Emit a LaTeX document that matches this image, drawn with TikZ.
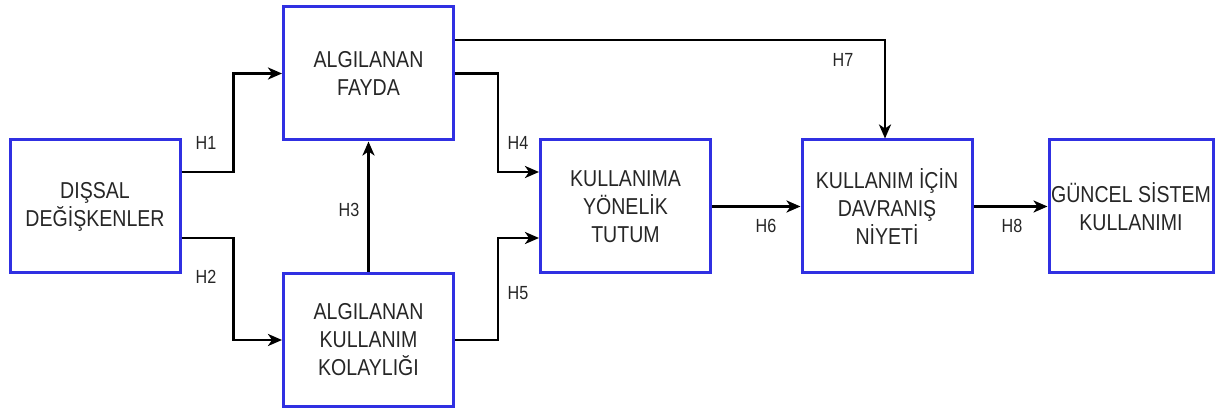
\documentclass[tikz,border=0pt]{standalone}
\usepackage{fontspec}
\setmainfont{Liberation Sans}[FakeStretch=0.85]
\usetikzlibrary{arrows.meta}
\definecolor{boxblue}{RGB}{48,48,226}
\definecolor{txtgray}{RGB}{38,38,38}

\begin{document}
\begin{tikzpicture}[x=1pt, y=-1pt,
    box/.style={draw=boxblue, line width=3pt, rectangle, fill=white, inner sep=0pt,
        minimum width=170pt, minimum height=133pt, align=center, text=txtgray,
        font=\fontsize{23}{28}\selectfont},
    lbl/.style={inner sep=0pt, text=txtgray, font=\fontsize{19}{21}\selectfont},
    arr/.style={black, line width=2.7pt, -{Stealth[length=14pt, width=12pt, inset=4pt]}}]
        \useasboundingbox (0,0) rectangle (1215,411);

        \node[box] (dis) at (95, 206.5) {DIŞSAL\\DEĞİŞKENLER};
        \node[box] (fayda) at (368.5, 73.5) {ALGILANAN\\FAYDA};
        \node[box] (akk) at (368.5, 340) {ALGILANAN\\KULLANIM\\KOLAYLIĞI};
        \node[box] (tutum) at (625.5, 206.5) {KULLANIMA\\YÖNELİK\\TUTUM};
        \node[box] (niyet) at (887, 206.5) {KULLANIM İÇİN\\DAVRANIŞ\\NİYETİ};
        \node[box, minimum width=164pt] (guncel) at (1131, 206.5) {GÜNCEL SİSTEM\\KULLANIMI};

        % connectors
        \draw[arr] ([yshift=34.5pt]dis.east) -- ++(52,0) |- (fayda.west);
        \draw[arr] ([yshift=-31.5pt]dis.east) -- ++(52,0) |- (akk.west);
        \draw[arr] (akk.north) -- (fayda.south);
        \draw[arr] (fayda.east) -- ++(43,0) |- ([yshift=34.5pt]tutum.west);
        \draw[arr] (akk.east) -- ++(43,0) |- ([yshift=-31.5pt]tutum.west);
        \draw[arr] (tutum.east) -- (niyet.west);
        \draw[arr] ([yshift=33.5pt]fayda.east) -| ([xshift=-2pt]niyet.north);
        \draw[arr] (niyet.east) -- (guncel.west);

        \node[lbl] (h1) at (206, 143) {H1};
        \node[lbl] (h2) at (206, 277) {H2};
        \node[lbl] (h3) at (349, 210) {H3};
        \node[lbl] (h4) at (518, 143) {H4};
        \node[lbl] (h5) at (518, 293) {H5};
        \node[lbl] (h6) at (766, 226) {H6};
        \node[lbl] (h7) at (843, 60) {H7};
        \node[lbl] (h8) at (1012, 226) {H8};
\end{tikzpicture}
\end{document}
